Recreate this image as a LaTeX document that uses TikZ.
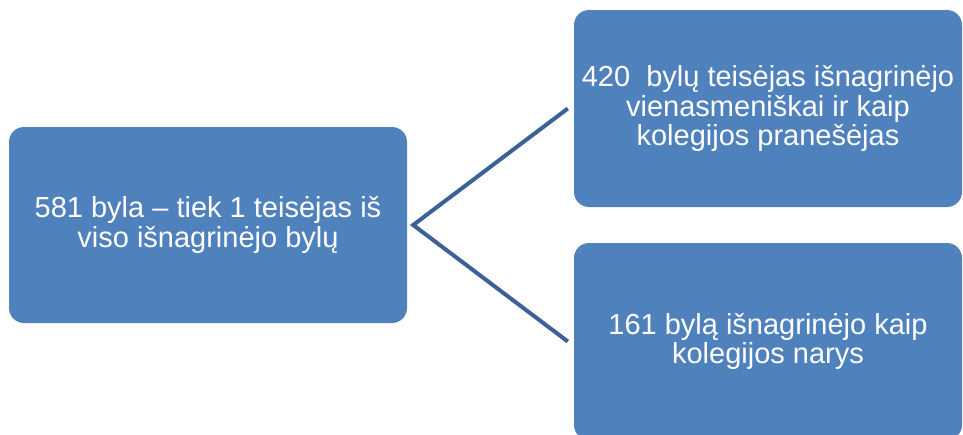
\documentclass[tikz,border=0pt]{standalone}
\usepackage{fontspec}
\setmainfont{Liberation Sans}
\usepackage{tikz}
\definecolor{boxblue}{HTML}{4F81BD}
\definecolor{linkblue}{HTML}{3C6196}

\begin{document}
\begin{tikzpicture}[x=1pt,y=-1pt,
    box/.style={shape=rectangle,rounded corners=15pt,fill=boxblue,text=white,
      align=center,font=\fontsize{29}{29.5}\selectfont},
    link/.style={draw=linkblue,line width=4pt}]
    \useasboundingbox (0,0) rectangle (963,434);
    \node[box,minimum width=398pt,minimum height=196pt] (total) at (208,225)
      {581 byla -- tiek 1 teisėjas iš\\viso išnagrinėjo bylų};
    \node[box,minimum width=388pt,minimum height=197pt] (single) at (768,108.5)
      {420\ \ bylų teisėjas išnagrinėjo\\vienasmeniškai ir kaip\\kolegijos pranešėjas};
    \node[box,minimum width=388pt,minimum height=197pt] (member) at (768,341.5)
      {161 bylą išnagrinėjo kaip\\kolegijos narys};
    \draw[link] ([xshift=-6pt]single.west) -- ([xshift=6pt]total.east) -- ([xshift=-6pt]member.west);
\end{tikzpicture}
\end{document}
